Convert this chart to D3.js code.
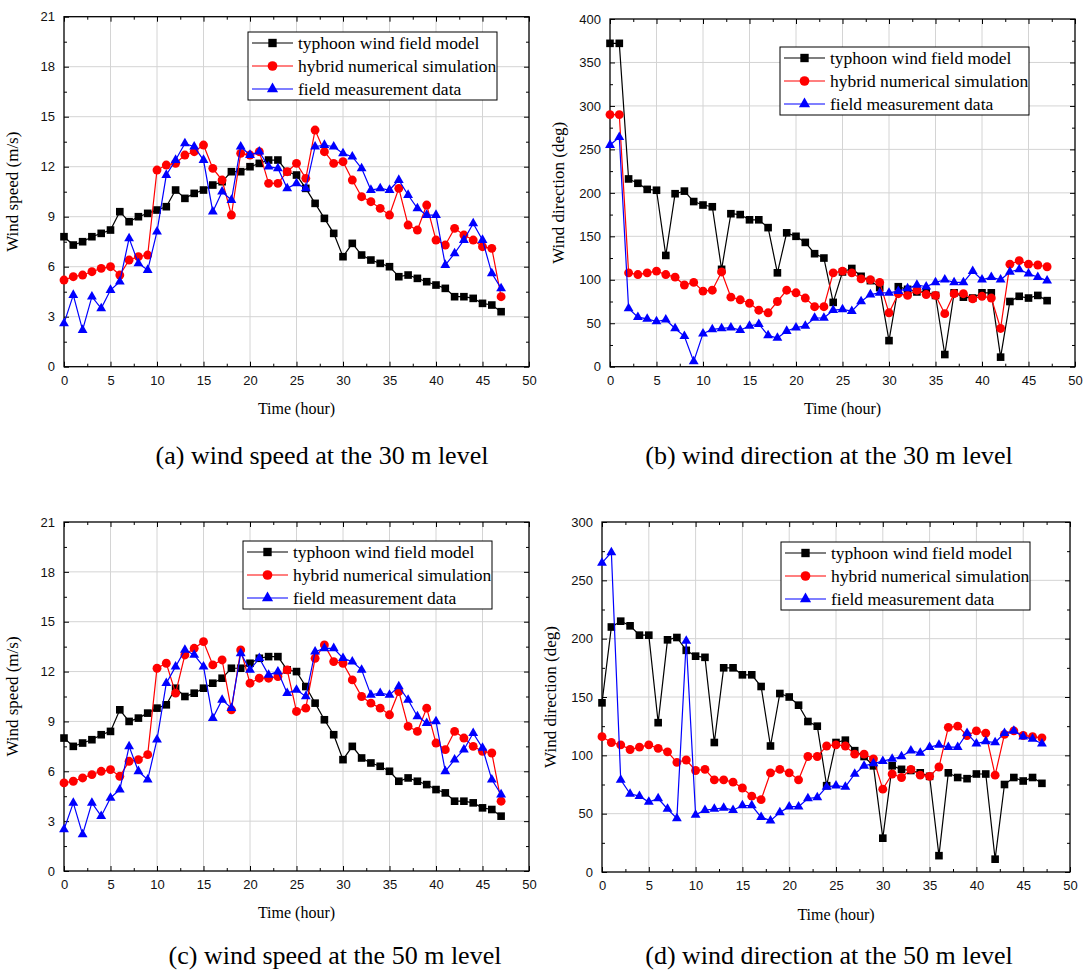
<!DOCTYPE html>
<html>
<head>
<meta charset="utf-8">
<script src="https://cdn.jsdelivr.net/npm/d3@7/dist/d3.min.js"></script>
<style>
  body { margin: 0; background: #fff; }
  svg { display: block; }
  .tick text { font-family: "Liberation Sans", Arial, sans-serif; font-size: 13px; fill: #111; }
  .serif { font-family: "Liberation Serif", "Times New Roman", serif; fill: #000; }
</style>
</head>
<body>
<div id="chart"></div>
<script>
// hours 0..47
var hours = d3.range(0, 48);

var seriesNames = ['typhoon wind field model', 'hybrid numerical simulation', 'field measurement data'];

// (a) wind speed, 30 m
var speed30Typhoon = [7.8,7.3,7.5,7.8,8.0,8.2,9.3,8.7,9.0,9.2,9.4,9.6,10.6,10.1,10.4,10.6,10.9,11.1,11.7,11.7,12.0,12.2,12.4,12.4,11.7,11.5,10.7,9.8,8.9,8.0,6.6,7.4,6.7,6.4,6.2,6.0,5.4,5.5,5.3,5.1,4.9,4.7,4.2,4.2,4.1,3.8,3.7,3.3];
var speed30Hybrid = [5.2,5.4,5.5,5.7,5.9,6.0,5.5,6.4,6.6,6.7,11.8,12.1,12.2,12.7,12.9,13.3,11.9,11.2,9.1,12.8,12.7,12.9,11.0,11.0,11.7,12.2,11.3,14.2,12.9,12.2,12.3,11.2,10.2,9.9,9.5,9.1,10.7,8.5,8.2,9.7,7.6,7.3,8.3,7.9,7.6,7.2,7.1,4.2];
var speed30Measured = [2.6,4.3,2.2,4.2,3.5,4.6,5.1,7.7,6.2,5.8,8.1,11.5,12.4,13.4,13.2,12.4,9.3,10.5,10.0,13.2,12.7,12.9,12.0,11.9,10.7,11.0,10.7,13.2,13.3,13.2,12.8,12.6,11.9,10.6,10.7,10.6,11.2,10.3,9.5,9.1,9.1,6.1,6.8,7.6,8.6,7.6,5.6,4.7];

// (b) wind direction, 30 m
var dir30Typhoon = [372,372,216,211,204,203,128,199,202,190,186,184,112,176,175,169,169,160,108,154,150,143,130,125,74,109,113,104,99,91,30,92,89,86,86,82,14,85,80,79,85,85,11,75,81,79,82,76];
var dir30Hybrid = [290,290,108,106,108,110,106,103,94,97,87,88,109,80,77,73,65,62,75,88,85,79,69,69,108,110,108,101,100,97,62,84,82,88,83,82,61,84,84,78,81,79,44,118,122,118,117,115];
var dir30Measured = [255,264,67,57,55,52,54,44,35,6,38,43,44,45,42,47,49,36,33,41,45,47,56,56,65,66,64,75,83,85,85,87,90,94,92,97,100,97,97,110,100,103,100,109,112,107,103,99];

// (c) wind speed, 50 m
var speed50Typhoon = [8.0,7.5,7.7,7.9,8.2,8.4,9.7,9.0,9.2,9.5,9.8,10.0,11.0,10.5,10.7,11.0,11.3,11.6,12.2,12.2,12.5,12.8,12.9,12.9,12.1,12.0,11.1,10.1,9.1,8.2,6.7,7.5,6.8,6.5,6.3,6.0,5.4,5.6,5.4,5.2,4.9,4.7,4.2,4.2,4.1,3.8,3.7,3.3];
var speed50Hybrid = [5.3,5.4,5.6,5.8,6.0,6.1,5.7,6.6,6.7,7.0,12.2,12.5,10.7,13.0,13.4,13.8,12.4,12.7,9.7,13.3,11.3,11.6,11.6,11.7,12.1,9.6,9.8,12.8,13.6,12.6,12.5,11.5,10.5,10.1,9.8,9.4,10.8,8.7,8.4,9.8,7.7,7.3,8.4,8.0,7.5,7.2,7.1,4.2];
var speed50Measured = [2.5,4.1,2.2,4.1,3.3,4.4,4.9,7.5,6.0,5.5,7.9,11.3,12.3,13.3,13.0,12.3,9.2,10.3,9.8,13.1,12.1,12.8,11.8,12.0,10.7,10.9,10.5,13.2,13.4,13.4,12.8,12.6,12.1,10.6,10.7,10.6,11.1,10.3,9.3,8.9,9.0,6.0,6.7,7.3,8.3,7.4,5.5,4.6];

// (d) wind direction, 50 m
var dir50Typhoon = [145,210,215,211,203,203,128,199,201,190,185,184,111,175,175,169,169,159,108,153,150,143,129,125,74,111,113,104,99,91,29,91,88,87,85,82,14,85,81,80,84,84,11,75,81,78,81,76];
var dir50Hybrid = [116,111,109,105,107,109,106,103,94,96,87,88,79,79,77,72,65,62,85,88,85,79,99,99,108,109,108,101,101,97,71,84,81,88,83,82,90,124,125,117,121,119,83,118,121,117,116,115];
var dir50Measured = [265,274,79,67,65,60,63,54,46,198,49,53,54,55,53,57,57,47,44,51,56,56,63,64,73,74,73,84,91,93,95,97,99,104,102,107,109,107,107,119,110,112,111,119,121,116,114,110];

var colors = ['#000000', '#ff0000', '#0000ff'];
var symbols = [d3.symbolSquare, d3.symbolCircle, d3.symbolTriangle];
var symSizes = [58, 62, 42];

var panels = [
  { left: 64, top: 16.7, right: 529, bottom: 366.7, yMax: 21, yStep: 3, yLabel: 'Wind speed (m/s)',
    series: [speed30Typhoon, speed30Hybrid, speed30Measured], legX: 248, legY: 32,
    caption: '(a) wind speed at the 30 m level', capX: 322, capY: 464, xtY: 414 },
  { left: 610, top: 19, right: 1075, bottom: 366.7, yMax: 400, yStep: 50, yLabel: 'Wind direction (deg)',
    series: [dir30Typhoon, dir30Hybrid, dir30Measured], legX: 780, legY: 47,
    caption: '(b) wind direction at the 30 m level', capX: 829, capY: 464, xtY: 414 },
  { left: 64, top: 522, right: 529, bottom: 871, yMax: 21, yStep: 3, yLabel: 'Wind speed (m/s)',
    series: [speed50Typhoon, speed50Hybrid, speed50Measured], legX: 243, legY: 541,
    caption: '(c) wind speed at the 50 m level', capX: 335, capY: 964, xtY: 918 },
  { left: 602, top: 522, right: 1070, bottom: 872, yMax: 300, yStep: 50, yLabel: 'Wind direction (deg)',
    series: [dir50Typhoon, dir50Hybrid, dir50Measured], legX: 781, legY: 542,
    caption: '(d) wind direction at the 50 m level', capX: 829, capY: 964, xtY: 920 }
];

var svg = d3.select('#chart').append('svg')
  .attr('width', 1084)
  .attr('height', 970);

panels.forEach(drawPanel);

function drawPanel(p) {
  var g = svg.append('g');

  var x = d3.scaleLinear().domain([0, 50]).range([p.left, p.right]);
  var y = d3.scaleLinear().domain([0, p.yMax]).range([p.bottom, p.top]);

  var xMajor = d3.range(0, 51, 5);
  var xMinor = d3.range(2.5, 50, 5);
  var yMajor = d3.range(0, p.yMax + 0.001, p.yStep);
  var yMinor = d3.range(p.yStep / 2, p.yMax, p.yStep);

  // grid
  g.append('g').selectAll('line.gx')
    .data(xMajor.slice(1, -1)).enter().append('line')
    .attr('x1', d => x(d)).attr('x2', d => x(d))
    .attr('y1', p.top).attr('y2', p.bottom)
    .attr('stroke', '#d4d4d4').attr('stroke-width', 1);
  g.append('g').selectAll('line.gy')
    .data(yMajor.slice(1, -1)).enter().append('line')
    .attr('x1', p.left).attr('x2', p.right)
    .attr('y1', d => y(d)).attr('y2', d => y(d))
    .attr('stroke', '#d4d4d4').attr('stroke-width', 1);

  // axes with inward ticks
  function axisAt(axisFn, scale, vals, size, labels, transform) {
    var ax = axisFn(scale).tickValues(vals).tickSizeInner(-size).tickSizeOuter(0).tickPadding(labels ? 9 : 0);
    if (!labels) ax.tickFormat('');
    var a = g.append('g').attr('transform', transform).call(ax);
    a.select('.domain').remove();
    a.selectAll('.tick line').attr('stroke', '#000').attr('stroke-width', 1);
    return a;
  }
  axisAt(d3.axisBottom, x, xMajor, 5, true, 'translate(0,' + p.bottom + ')');
  axisAt(d3.axisBottom, x, xMinor, 3, false, 'translate(0,' + p.bottom + ')');
  axisAt(d3.axisTop, x, xMajor, 5, false, 'translate(0,' + p.top + ')');
  axisAt(d3.axisTop, x, xMinor, 3, false, 'translate(0,' + p.top + ')');
  axisAt(d3.axisLeft, y, yMajor, 5, true, 'translate(' + p.left + ',0)');
  axisAt(d3.axisLeft, y, yMinor, 3, false, 'translate(' + p.left + ',0)');
  axisAt(d3.axisRight, y, yMajor, 5, false, 'translate(' + p.right + ',0)');
  axisAt(d3.axisRight, y, yMinor, 3, false, 'translate(' + p.right + ',0)');

  // frame
  g.append('rect')
    .attr('x', p.left).attr('y', p.top)
    .attr('width', p.right - p.left).attr('height', p.bottom - p.top)
    .attr('fill', 'none').attr('stroke', '#000').attr('stroke-width', 1.3);

  // series
  var line = d3.line().x((d, i) => x(hours[i])).y(d => y(d));
  p.series.forEach(function(vals, k) {
    g.append('path')
      .datum(vals)
      .attr('d', line)
      .attr('fill', 'none')
      .attr('stroke', colors[k])
      .attr('stroke-width', 1.2);
    g.append('g').selectAll('path')
      .data(vals).enter().append('path')
      .attr('d', d3.symbol().type(symbols[k]).size(symSizes[k]))
      .attr('transform', (d, i) => 'translate(' + x(hours[i]) + ',' + y(d) + ')')
      .attr('fill', colors[k]);
  });

  // axis titles
  g.append('text').attr('class', 'serif')
    .attr('transform', 'translate(' + (p.left - 46) + ',' + ((p.top + p.bottom) / 2) + ') rotate(-90)')
    .attr('text-anchor', 'middle')
    .attr('font-size', 17)
    .text(p.yLabel);
  g.append('text').attr('class', 'serif')
    .attr('x', (p.left + p.right) / 2).attr('y', p.xtY)
    .attr('text-anchor', 'middle')
    .attr('font-size', 16)
    .text('Time (hour)');

  // legend
  var leg = g.append('g').attr('transform', 'translate(' + p.legX + ',' + p.legY + ')');
  leg.append('rect')
    .attr('width', 249).attr('height', 68)
    .attr('fill', '#fff').attr('stroke', '#000').attr('stroke-width', 1);
  seriesNames.forEach(function(name, k) {
    var ry = 11 + k * 23;
    leg.append('line')
      .attr('x1', 4).attr('x2', 45).attr('y1', ry).attr('y2', ry)
      .attr('stroke', colors[k]).attr('stroke-width', 1.2);
    leg.append('path')
      .attr('d', d3.symbol().type(symbols[k]).size(symSizes[k] + 12))
      .attr('transform', 'translate(24.5,' + ry + ')')
      .attr('fill', colors[k]);
    leg.append('text').attr('class', 'serif')
      .attr('x', 50).attr('y', ry + 6)
      .attr('font-size', 17.5)
      .text(name);
  });

  // caption
  g.append('text').attr('class', 'serif')
    .attr('x', p.capX).attr('y', p.capY)
    .attr('text-anchor', 'middle')
    .attr('font-size', 26)
    .text(p.caption);
}
</script>
</body>
</html>
